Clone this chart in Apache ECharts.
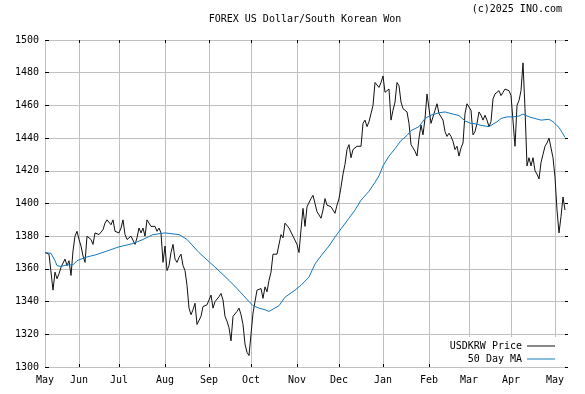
<!DOCTYPE html>
<html><head><meta charset="utf-8">
<script src="https://cdn.jsdelivr.net/npm/echarts@6/dist/echarts.min.js"></script>
<style>html,body{margin:0;padding:0;background:#fff}#c{width:585px;height:394px}</style>
</head><body><div id="c"></div>
<script>
// ---- data ----
const titleText = 'FOREX US Dollar/South Korean Won';
const creditText = '(c)2025 INO.com';
const seriesNames = ['USDKRW Price', '50 Day MA'];
const startDate = '2024-05-09';
const tradingDayCount = 261;
const monthNames = ['Jan','Feb','Mar','Apr','May','Jun','Jul','Aug','Sep','Oct','Nov','Dec'];
const yMin = 1300, yMax = 1500, yStep = 20;

const price = [
1370,1371,1369,1369,1347,1358,1354,1357,1361,1362,
1366,1362,1365,1356,1371,1380,1383,1378,1374,1368,
1364,1380,1379,1378,1375,1382,1383,1381,1382,1384,
1388,1390,1390,1387,1390,1383,1382,1382,1385,1390,
1381,1378,1378,1380,1379,1375,1379,1385,1382,1385,
1380,1390,1389,1386,1387,1386,1383,1385,1382,1364,
1374,1359,1362,1370,1375,1366,1364,1367,1369,1362,
1359,1350,1336,1332,1335,1339,1326,1326,1331,1337,
1338,1338,1341,1344,1336,1340,1341,1343,1345,1341,
1331,1328,1324,1316,1331,1332,1334,1336,1332,1326,
1314,1309,1307,1320,1333,1340,1347,1347,1348,1342,
1349,1346,1353,1358,1369,1370,1369,1369,1381,1379,
1388,1387,1385,1384,1380,1380,1375,1370,1384,1397,
1386,1398,1398,1403,1405,1400,1395,1393,1391,1396,
1403,1399,1398,1398,1396,1394,1399,1403,1410,1418,
1424,1433,1436,1428,1433,1433,1435,1436,1435,1449,
1451,1447,1450,1455,1460,1474,1474,1471,1474,1478,
1468,1467,1470,1451,1457,1462,1474,1472,1462,1458,
1459,1456,1449,1436,1434,1432,1429,1440,1448,1442,
1452,1467,1458,1449,1449,1457,1461,1455,1455,1451,
1444,1441,1443,1441,1438,1433,1435,1429,1434,1437,
1455,1461,1460,1457,1442,1444,1449,1456,1454,1451,
1454,1451,1447,1450,1464,1467,1466,1469,1466,1468,
1470,1471,1469,1466,1465,1435,1460,1463,1469,1486,
1458,1423,1428,1423,1428,1420,1418,1415,1425,1430,
1435,1437,1440,1439,1428,1416,1396,1382,1392,1404,
1396
];

// 50 day moving average read at trading-day indices: [index, value]
const ma50 = [
[0,1370],[3,1369.5],[5,1365],[6,1362],[8,1361.5],[11,1362.5],[14,1362.5],[16,1365],
[20,1367],[25,1368.5],[30,1370.5],[37,1373.5],[44,1375.5],[49,1378],[54,1381],[60,1382],
[67,1381],[71,1378],[74,1374],[77,1370],[81,1365.5],[86,1360],[92,1353],[96,1348],
[99,1344],[102,1340],[104,1337.5],[107,1336],[110,1335],[112,1334],[117,1337.5],[120,1342.7],
[125,1347],[128,1350],[132,1355],[135,1363],[138,1368],[142,1374],[145,1379.5],[148,1384.5],
[152,1391],[155,1396],[158,1402],[162,1407.5],[165,1413],[167,1417],[169,1423],[172,1429],
[175,1433.5],[178,1438.5],[181,1441.6],[183,1444.6],[187,1447],[190,1452],[193,1454],[197,1455.5],
[200,1456],[203,1455],[207,1453.8],[210,1450.5],[213,1449],[215,1448.8],[218,1447.8],[222,1447],
[226,1450],[228,1452],[231,1453],[234,1453],[237,1453.5],[239,1454.7],[242,1453],[245,1452],
[248,1451],[252,1451.5],[254,1450],[257,1446.5],[259,1442.5],[260,1440.5]
];

// ---- trading-day categories (weekdays) ----
const cats = [];
const months = [];
{
  let d = new Date(startDate + 'T00:00:00Z');
  while (cats.length < tradingDayCount) {
    const wd = d.getUTCDay();
    if (wd !== 0 && wd !== 6) {
      cats.push(d.toISOString().slice(0,10));
      months.push(d.getUTCMonth());
    }
    d = new Date(d.getTime() + 86400000);
  }
}
const isMonthStart = (i) => i === 0 || months[i] !== months[i-1];
const isInnerMonthStart = (i) => i > 0 && months[i] !== months[i-1];

const FONT = 'DejaVu Sans Mono';
const gridColor = '#c0c0c0';
const lineIcon = 'path://M0,0H28V1H0Z';

const chart = echarts.init(document.getElementById('c'), null, {renderer:'canvas'});
chart.setOption({
  animation: false,
  backgroundColor: '#fff',
  grid: {left:45, right:20, top:40, bottom:27, containLabel:false},
  xAxis: [{
    type:'category', data:cats, boundaryGap:false,
    axisLine:{show:false},
    axisTick:{show:true, inside:true, length:3, interval:(i)=>isInnerMonthStart(i), lineStyle:{color:'#000'}},
    axisLabel:{interval:(i)=>isMonthStart(i), formatter:(v)=>monthNames[+v.slice(5,7)-1],
      fontFamily:FONT, fontSize:10, color:'#000', margin:8},
    splitLine:{show:true, interval:(i)=>isMonthStart(i), lineStyle:{color:gridColor, width:1}}
  },{
    type:'category', data:cats, boundaryGap:false, position:'top',
    axisLine:{show:false},
    axisTick:{show:true, inside:true, length:3, interval:(i)=>isInnerMonthStart(i), lineStyle:{color:'#000'}},
    axisLabel:{show:false}, splitLine:{show:false}
  }],
  yAxis: [{
    type:'value', min:yMin, max:yMax, interval:yStep,
    axisLine:{show:false},
    axisTick:{show:true, inside:true, length:4, lineStyle:{color:'#000'}},
    axisLabel:{fontFamily:FONT, fontSize:10, color:'#000', margin:6, formatter:(v)=>String(v)},
    splitLine:{show:true, lineStyle:{color:gridColor, width:1}}
  },{
    type:'value', min:yMin, max:yMax, interval:yStep, position:'right',
    axisLine:{show:false},
    axisTick:{show:true, inside:false, length:3, lineStyle:{color:'#000'}},
    axisLabel:{show:false}, splitLine:{show:false}
  }],
  legend: {
    orient:'vertical', right:20, top:337, align:'right',
    padding:[3,10,2,10], backgroundColor:'#fff', itemGap:1,
    itemWidth:28, itemHeight:1, selectedMode:false,
    textStyle:{fontFamily:FONT, fontSize:10, color:'#000', lineHeight:12},
    data: [{name:seriesNames[0], icon:lineIcon}, {name:seriesNames[1], icon:lineIcon}]
  },
  graphic: [
    {type:'text', x:305, y:19, style:{text:titleText, fontFamily:FONT, fontSize:10, fill:'#000', align:'center', verticalAlign:'middle'}},
    {type:'text', x:562, y:9, style:{text:creditText, fontFamily:FONT, fontSize:10, fill:'#000', align:'right', verticalAlign:'middle'}}
  ],
  series: [{
    name: seriesNames[0], type:'line', data:price, symbol:'none',
    lineStyle:{color:'#111', width:1}, itemStyle:{color:'#111'}
  },{
    name: seriesNames[1], type:'line', data:ma50, symbol:'none',
    lineStyle:{color:'#1478be', width:1}, itemStyle:{color:'#1478be'}
  }]
});
</script></body></html>
